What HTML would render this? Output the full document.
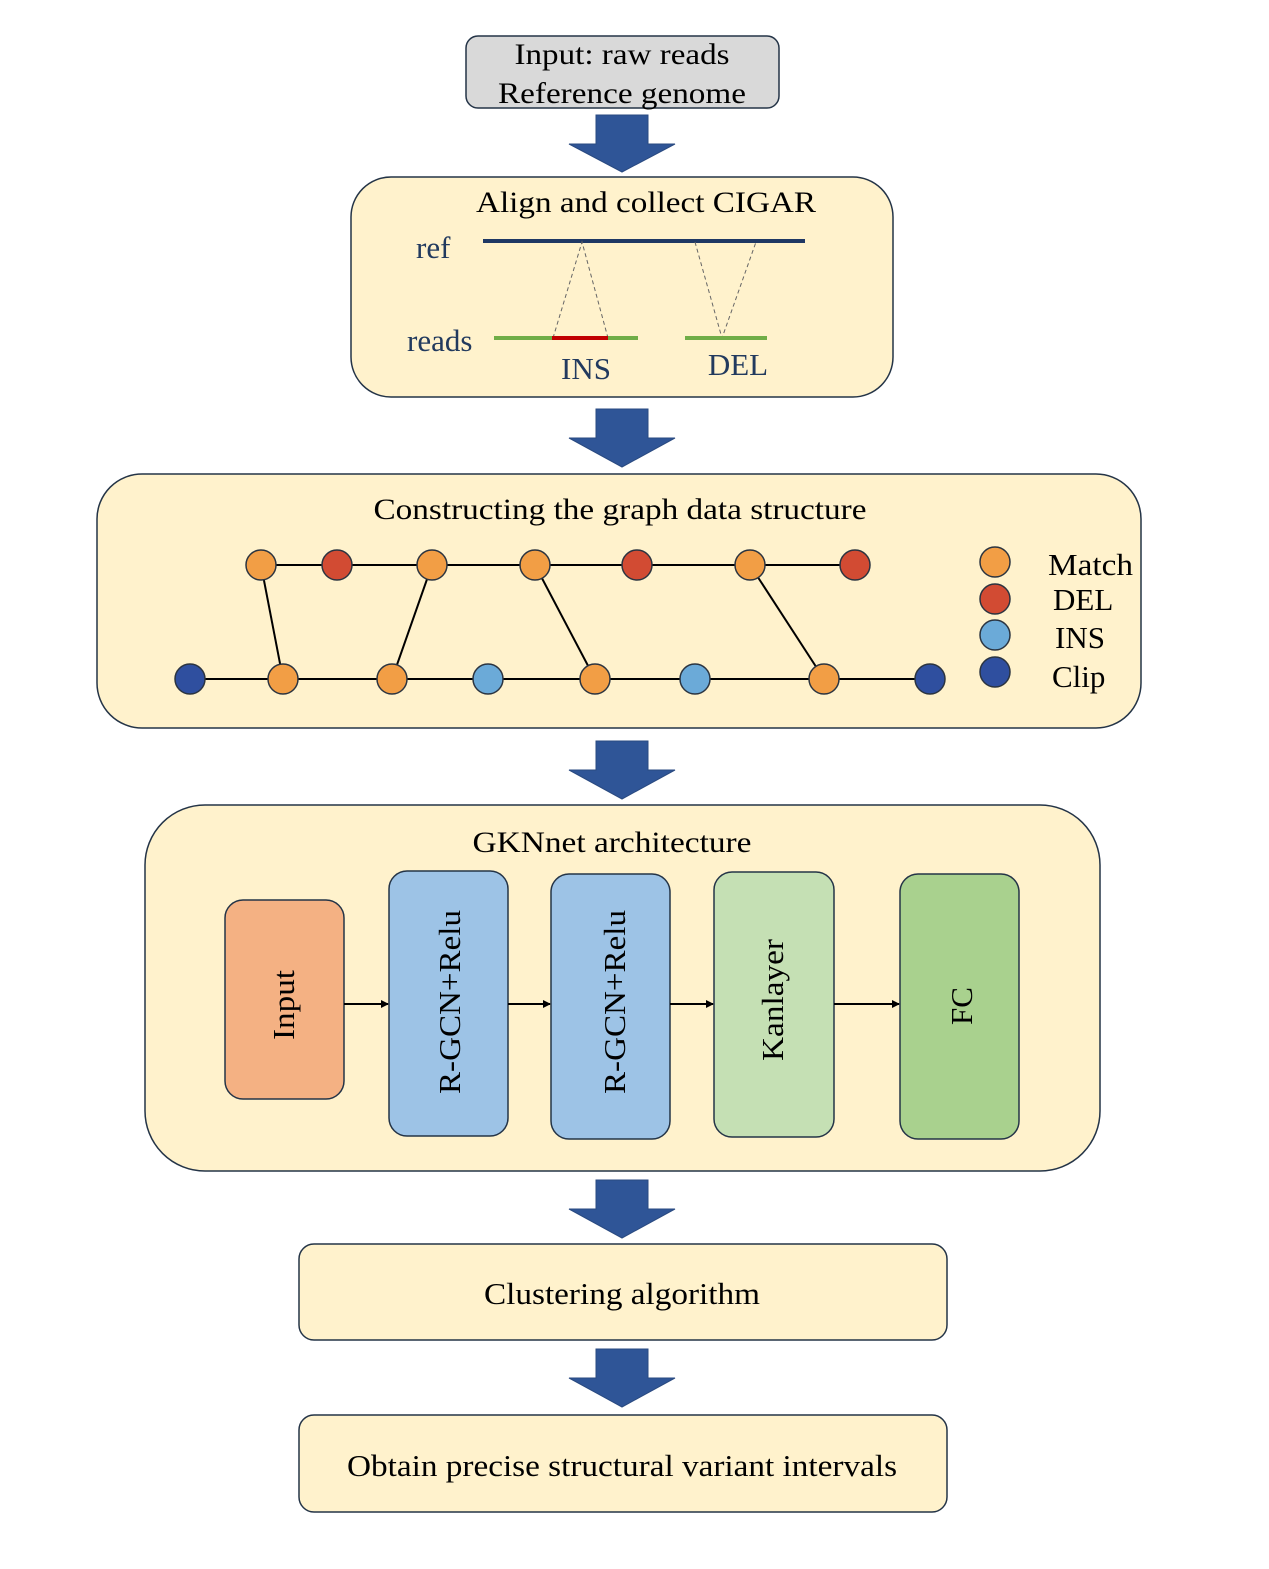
<!DOCTYPE html>
<html><head><meta charset="utf-8"><style>html,body{margin:0;padding:0;background:#fff}</style></head>
<body>
<svg width="1269" height="1564" viewBox="0 0 1269 1564" xmlns="http://www.w3.org/2000/svg" font-family="Liberation Serif, serif">
<defs>
<marker id="ah" markerWidth="8" markerHeight="8" refX="7" refY="4" orient="auto" markerUnits="userSpaceOnUse"><path d="M0,0 L8,4 L0,8 z" fill="#000"/></marker>
</defs>
<g fill="#2F5597" stroke="#2A4A80" stroke-width="1">
<path d="M596,115 H648 V144 H675 L622,172 L569,144 H596 Z"/>
<path d="M596,409 H648 V438 H675 L622,467 L569,438 H596 Z"/>
<path d="M596,741 H648 V770 H675 L622,799 L569,770 H596 Z"/>
<path d="M596,1180 H648 V1209 H675 L622,1238 L569,1209 H596 Z"/>
<path d="M596,1349 H648 V1378 H675 L622,1407 L569,1378 H596 Z"/>
</g>
<rect x="466" y="36" width="313" height="72" rx="12" fill="#D9D9D9" stroke="#243447" stroke-width="1.5"/>
<text x="622" y="64" font-size="30" text-anchor="middle" textLength="215" lengthAdjust="spacingAndGlyphs">Input: raw reads</text>
<text x="622" y="103" font-size="30" text-anchor="middle" textLength="248" lengthAdjust="spacingAndGlyphs">Reference genome</text>

<rect x="351" y="177" width="542" height="220" rx="40" fill="#FFF2CC" stroke="#243447" stroke-width="1.5"/>
<text x="646" y="212" font-size="30" text-anchor="middle" textLength="340" lengthAdjust="spacingAndGlyphs">Align and collect CIGAR</text>
<text x="416" y="258" font-size="31" fill="#223A5E">ref</text>
<line x1="483" y1="241" x2="805" y2="241" stroke="#1F3864" stroke-width="4"/>
<g stroke="#666" stroke-width="1" stroke-dasharray="4,3" fill="none">
<path d="M553,338 L582,242 L608,338"/><path d="M695,242 L722,338 L756,242"/>
</g>
<text x="407" y="351" font-size="31" fill="#223A5E">reads</text>
<line x1="494" y1="338" x2="638" y2="338" stroke="#70AD47" stroke-width="4"/>
<line x1="552" y1="338" x2="608" y2="338" stroke="#C00000" stroke-width="4"/>
<line x1="685" y1="338" x2="767" y2="338" stroke="#70AD47" stroke-width="4"/>
<text x="586" y="379" font-size="31" fill="#223A5E" text-anchor="middle">INS</text>
<text x="738" y="375" font-size="31" fill="#223A5E" text-anchor="middle">DEL</text>

<rect x="97" y="474" width="1044" height="254" rx="45" fill="#FFF2CC" stroke="#243447" stroke-width="1.5"/>
<text x="620" y="519" font-size="30" text-anchor="middle" textLength="493" lengthAdjust="spacingAndGlyphs">Constructing the graph data structure</text>
<g stroke="#000" stroke-width="2">
<line x1="261" y1="565" x2="855" y2="565"/><line x1="190" y1="679" x2="930" y2="679"/>
<line x1="261" y1="565" x2="283" y2="679"/><line x1="432" y1="565" x2="392" y2="679"/>
<line x1="535" y1="565" x2="595" y2="679"/><line x1="750" y1="565" x2="824" y2="679"/>
</g>
<g stroke="#2B3440" stroke-width="1.5">
<circle cx="261" cy="565" r="15" fill="#F29E45"/><circle cx="337" cy="565" r="15" fill="#D24B33"/>
<circle cx="432" cy="565" r="15" fill="#F29E45"/><circle cx="535" cy="565" r="15" fill="#F29E45"/>
<circle cx="637" cy="565" r="15" fill="#D24B33"/><circle cx="750" cy="565" r="15" fill="#F29E45"/>
<circle cx="855" cy="565" r="15" fill="#D24B33"/>
<circle cx="190" cy="679" r="15" fill="#2F4F9F"/><circle cx="283" cy="679" r="15" fill="#F29E45"/>
<circle cx="392" cy="679" r="15" fill="#F29E45"/><circle cx="488" cy="679" r="15" fill="#6BAAD8"/>
<circle cx="595" cy="679" r="15" fill="#F29E45"/><circle cx="695" cy="679" r="15" fill="#6BAAD8"/>
<circle cx="824" cy="679" r="15" fill="#F29E45"/><circle cx="930" cy="679" r="15" fill="#2F4F9F"/>
<circle cx="995" cy="562" r="15" fill="#F29E45"/><circle cx="995" cy="599" r="15" fill="#D24B33"/>
<circle cx="995" cy="635" r="15" fill="#6BAAD8"/><circle cx="995" cy="672" r="15" fill="#2F4F9F"/>
</g>
<g font-size="31">
<text x="1048" y="575" textLength="85" lengthAdjust="spacingAndGlyphs">Match</text><text x="1053" y="610">DEL</text>
<text x="1055" y="648">INS</text><text x="1052" y="687">Clip</text>
</g>

<rect x="145" y="805" width="955" height="366" rx="60" fill="#FFF2CC" stroke="#243447" stroke-width="1.5"/>
<text x="612" y="852" font-size="30" text-anchor="middle" textLength="279" lengthAdjust="spacingAndGlyphs">GKNnet architecture</text>
<g stroke="#243447" stroke-width="1.5">
<rect x="225" y="900" width="119" height="199" rx="18" fill="#F4B183"/>
<rect x="389" y="871" width="119" height="265" rx="18" fill="#9DC3E6"/>
<rect x="551" y="874" width="119" height="265" rx="18" fill="#9DC3E6"/>
<rect x="714" y="872" width="120" height="265" rx="18" fill="#C5E0B4"/>
<rect x="900" y="874" width="119" height="265" rx="18" fill="#A9D18E"/>
</g>
<g stroke="#000" stroke-width="2" marker-end="url(#ah)">
<line x1="344" y1="1004" x2="388" y2="1004"/><line x1="508" y1="1004" x2="550" y2="1004"/>
<line x1="670" y1="1004" x2="713" y2="1004"/><line x1="834" y1="1004" x2="899" y2="1004"/>
</g>
<g font-size="31" text-anchor="middle">
<text transform="translate(294,1005) rotate(-90)" textLength="70" lengthAdjust="spacingAndGlyphs">Input</text>
<text transform="translate(460,1002) rotate(-90)" textLength="184" lengthAdjust="spacingAndGlyphs">R-GCN+Relu</text>
<text transform="translate(625,1002) rotate(-90)" textLength="184" lengthAdjust="spacingAndGlyphs">R-GCN+Relu</text>
<text transform="translate(783,1000) rotate(-90)" textLength="122" lengthAdjust="spacingAndGlyphs">Kanlayer</text>
<text transform="translate(972,1006) rotate(-90)">FC</text>
</g>

<rect x="299" y="1244" width="648" height="96" rx="15" fill="#FFF2CC" stroke="#243447" stroke-width="1.5"/>
<text x="622" y="1304" font-size="31" text-anchor="middle" textLength="276" lengthAdjust="spacingAndGlyphs">Clustering algorithm</text>
<rect x="299" y="1415" width="648" height="97" rx="15" fill="#FFF2CC" stroke="#243447" stroke-width="1.5"/>
<text x="622" y="1476" font-size="31" text-anchor="middle" textLength="550" lengthAdjust="spacingAndGlyphs">Obtain precise structural variant intervals</text>
</svg>
</body></html>
